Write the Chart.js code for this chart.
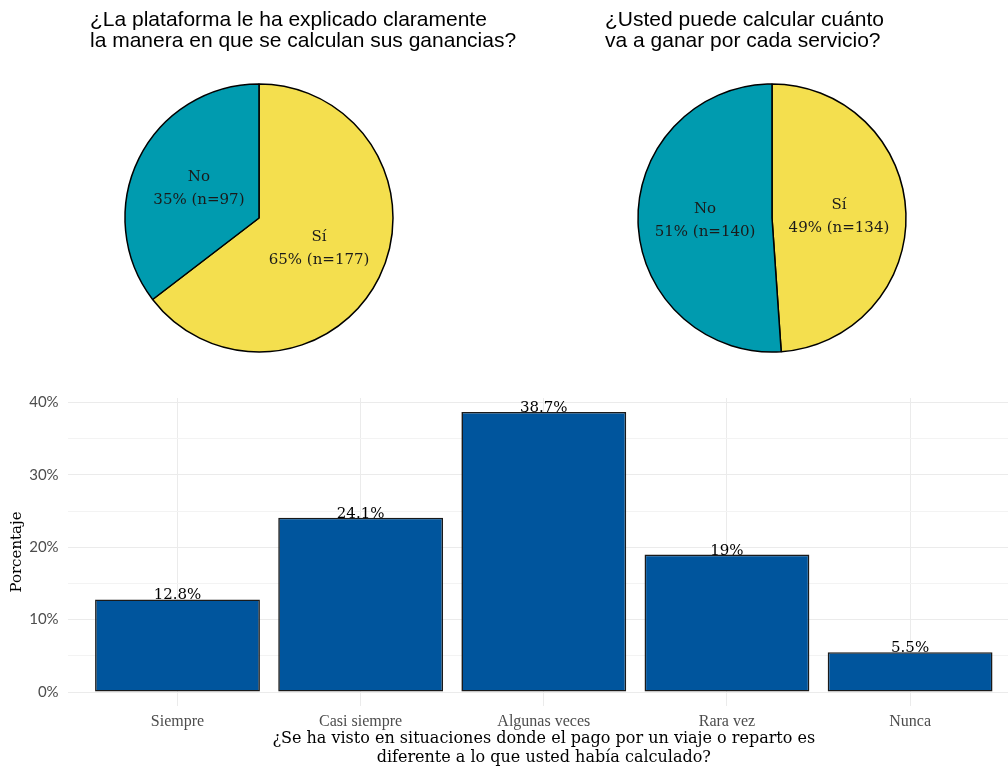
<!DOCTYPE html>
<html>
<head>
	<meta http-equiv="Content-Type" content="text/html; charset=utf-8"/>
	<script type="text/javascript" src="https://cdn.jsdelivr.net/npm/chart.js@4.4.1/dist/chart.umd.min.js"></script>
	<style type="text/css">
		body { margin: 0; background: #ffffff; }
		#pie1 { position: absolute; left: 90px; top: 0px; }
		#pie2 { position: absolute; left: 605px; top: 0px; }
		#barras { position: absolute; left: 0px; top: 380px; width: 1008px; height: 389px; overflow: hidden; }
	</style>
</head>
<body>
	<canvas id="pie1" width="460" height="370"></canvas>
	<canvas id="pie2" width="400" height="370"></canvas>
	<div id="barras"><canvas id="bar" width="1030" height="389"></canvas></div>

	<script type="text/javascript">
		// respuestas si/no
		var respuestas = ["Sí", "No"];
		var explicadoN = [177, 97];
		var calcularN = [134, 140];

		// frecuencia de pagos distintos
		var frecuencias = ["Siempre", "Casi siempre", "Algunas veces", "Rara vez", "Nunca"];
		var porcentajes = [12.8, 24.1, 38.7, 19, 5.5];
		var marcasY = [0, 5, 10, 15, 20, 25, 30, 35, 40];

		var amarillo = "#F4DF4E";
		var turquesa = "#009BAF";
		var azul = "#00559D";
		var serif = "'DejaVu Serif', serif";

		Chart.defaults.animation = false;

		// titulo en dos lineas, alineado a la izquierda, sin recortar el ancho
		var tituloPie = {
			id: "tituloPie",
			afterDraw: function(chart, args, opts) {
				var ctx = chart.ctx;
				ctx.save();
				ctx.font = "21px 'Liberation Sans', Arial, sans-serif";
				ctx.fillStyle = "#000000";
				ctx.textAlign = "left";
				ctx.textBaseline = "alphabetic";
				opts.lineas.forEach(function(t, i) {
					ctx.fillText(t, 0, 26 + i * 21);
				});
				ctx.restore();
			}
		};

		// etiquetas dentro de cada porcion: nombre y porcentaje (n)
		var etiquetasPie = {
			id: "etiquetasPie",
			afterDatasetsDraw: function(chart) {
				var ctx = chart.ctx;
				var datos = chart.data.datasets[0].data;
				var total = datos.reduce(function(a, b) { return a + b; }, 0);
				var meta = chart.getDatasetMeta(0);
				ctx.save();
				ctx.font = "15px " + serif;
				ctx.fillStyle = "#1a1a1a";
				ctx.textAlign = "center";
				ctx.textBaseline = "middle";
				meta.data.forEach(function(arco, i) {
					var p = arco.tooltipPosition();
					var pct = Math.round(datos[i] / total * 100);
					ctx.fillText(chart.data.labels[i], p.x, p.y - 11);
					ctx.fillText(pct + "% (n=" + datos[i] + ")", p.x, p.y + 12);
				});
				ctx.restore();
			}
		};

		function pastel(id, titulo, valores, ancho) {
			var lienzo = document.getElementById(id);
			return new Chart(lienzo, {
				type: "pie",
				data: {
					labels: respuestas,
					datasets: [{
						data: valores,
						backgroundColor: [amarillo, turquesa],
						borderColor: "#000000",
						borderWidth: 1.5,
						radius: 134
					}]
				},
				options: {
					responsive: false,
					layout: { padding: { top: 66, left: 0, bottom: 0, right: lienzo.width - ancho } },
					plugins: {
						legend: { display: false },
						tooltip: { enabled: false },
						tituloPie: { lineas: titulo }
					}
				},
				plugins: [etiquetasPie, tituloPie]
			});
		}

		pastel("pie1", ["¿La plataforma le ha explicado claramente", "la manera en que se calculan sus ganancias?"], explicadoN, 338);
		pastel("pie2", ["¿Usted puede calcular cuánto", "va a ganar por cada servicio?"], calcularN, 334);

		// valor encima de cada barra
		var etiquetasBarra = {
			id: "etiquetasBarra",
			afterDatasetsDraw: function(chart) {
				var ctx = chart.ctx;
				var meta = chart.getDatasetMeta(0);
				ctx.save();
				ctx.font = "15px " + serif;
				ctx.fillStyle = "#000000";
				ctx.textAlign = "center";
				ctx.textBaseline = "alphabetic";
				meta.data.forEach(function(barra, i) {
					ctx.fillText(porcentajes[i] + "%", barra.x, barra.y);
				});
				ctx.restore();
			}
		};

		new Chart(document.getElementById("bar"), {
			type: "bar",
			data: {
				datasets: [{
					data: porcentajes.map(function(v, i) { return { x: i + 1, y: v }; }),
					backgroundColor: azul,
					borderColor: "#1a1a1a",
					borderWidth: 1.6,
					borderSkipped: false,
					barPercentage: 0.9,
					categoryPercentage: 1
				}]
			},
			options: {
				responsive: false,
				layout: { padding: { top: 15, right: 10, bottom: 0, left: 0 } },
				plugins: {
					legend: { display: false },
					tooltip: { enabled: false }
				},
				scales: {
					x: {
						type: "linear",
						min: 0.4,
						max: 5.6,
						offset: false,
						afterBuildTicks: function(s) {
							s.ticks = frecuencias.map(function(f, i) { return { value: i + 1 }; });
						},
						afterFit: function(s) { s.height = 63; },
						border: { display: false },
						grid: { color: "#EBEBEB", lineWidth: 1, drawTicks: false, offset: false },
						ticks: {
							padding: 6,
							color: "#4D4D4D",
							font: { family: "'Liberation Serif', serif", size: 16 },
							maxRotation: 0,
							callback: function(v) { return frecuencias[v - 1]; }
						},
						title: {
							display: true,
							text: ["¿Se ha visto en situaciones donde el pago por un viaje o reparto es", "diferente a lo que usted había calculado?"],
							color: "#000000",
							font: { family: serif, size: 16, lineHeight: 1.19 },
							padding: { top: 0, bottom: 2 }
						}
					},
					y: {
						min: -1.935,
						max: 40.635,
						afterBuildTicks: function(s) {
							s.ticks = marcasY.map(function(v) { return { value: v }; });
						},
						afterFit: function(s) { s.width = 67.6; },
						border: { display: false },
						grid: {
							drawTicks: false,
							lineWidth: 1,
							color: function(c) { return c.tick && c.tick.value % 10 === 0 ? "#EBEBEB" : "#F3F3F3"; }
						},
						ticks: {
							padding: 9,
							color: "#4D4D4D",
							font: { family: "Lato, sans-serif", size: 15 },
							callback: function(v) { return v % 10 === 0 ? v + "%" : ""; }
						},
						title: {
							display: true,
							text: "Porcentaje",
							color: "#000000",
							font: { family: serif, size: 15, lineHeight: 1.2 },
							padding: { top: 8, bottom: 0 }
						}
					}
				}
			},
			plugins: [etiquetasBarra]
		});
	</script>
</body>
</html>
